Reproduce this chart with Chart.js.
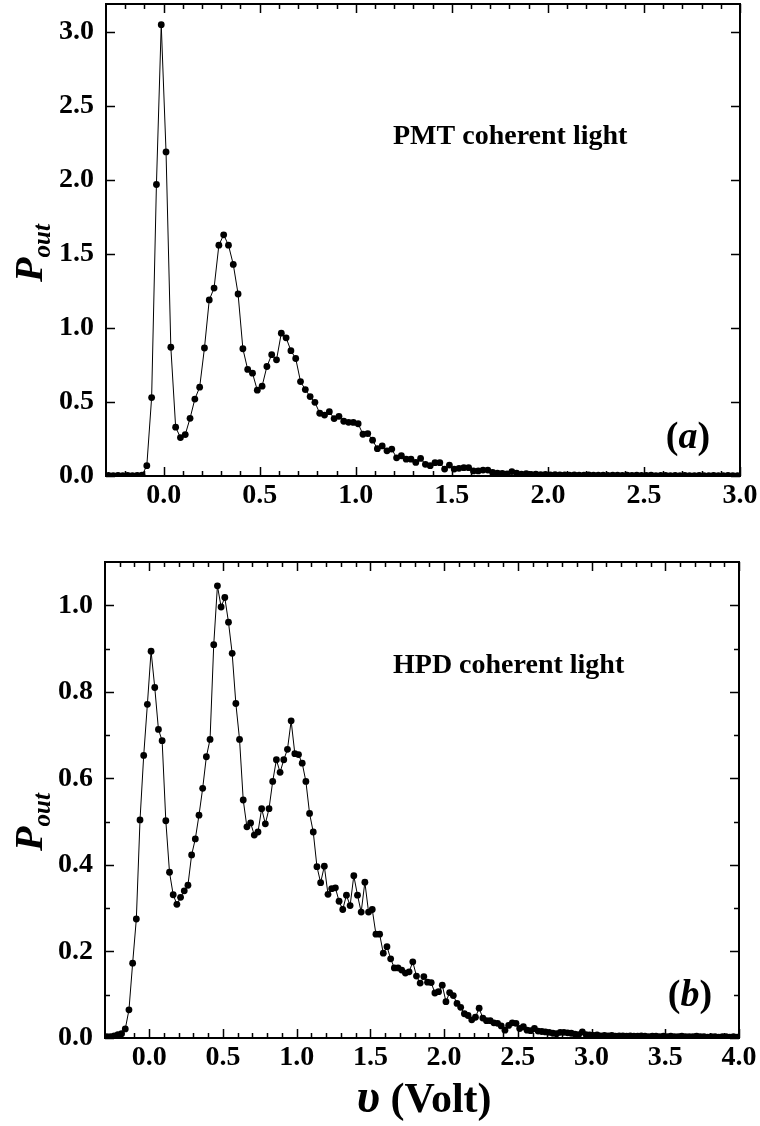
<!DOCTYPE html>
<html>
<head>
<meta charset="utf-8">
<script src="https://cdn.jsdelivr.net/npm/chart.js@4/dist/chart.umd.min.js"></script>
<style>
  body { margin: 0; background: #fff; }
  #wrap { position: relative; width: 760px; height: 1126px; }
  canvas { position: absolute; left: 0; }
</style>
</head>
<body>
<div id="wrap">
  <canvas id="chartTop" width="760" height="530" style="top:0;width:760px;height:530px"></canvas>
  <canvas id="chartBot" width="760" height="586" style="top:540px;width:760px;height:586px"></canvas>
</div>
<script>
// panel (a) : PMT, coherent light
let pmtX = [
  -0.2875, -0.2625, -0.2375, -0.2125, -0.1875, -0.1625, -0.1375, -0.1125, -0.0875, -0.0625, -0.0375, -0.0125,
  0.0125, 0.0375, 0.0625, 0.0875, 0.1125, 0.1375, 0.1625, 0.1875, 0.2125, 0.2375, 0.2625, 0.2875, 0.3125, 0.3375, 0.3625, 0.3875, 0.4125, 0.4375, 0.4625, 0.4875,
  0.5125, 0.5375, 0.5625, 0.5875, 0.6125, 0.6375, 0.6625, 0.6875, 0.7125, 0.7375, 0.7625, 0.7875, 0.8125, 0.8375, 0.8625, 0.8875, 0.9125, 0.9375, 0.9625, 0.9875,
  1.0125, 1.0375, 1.0625, 1.0875, 1.1125, 1.1375, 1.1625, 1.1875, 1.2125, 1.2375, 1.2625, 1.2875, 1.3125, 1.3375, 1.3625, 1.3875, 1.4125, 1.4375, 1.4625, 1.4875,
  1.5125, 1.5375, 1.5625, 1.5875, 1.6125, 1.6375, 1.6625, 1.6875, 1.7125, 1.7375, 1.7625, 1.7875, 1.8125, 1.8375, 1.8625, 1.8875, 1.9125, 1.9375, 1.9625, 1.9875,
  2.0125, 2.0375, 2.0625, 2.0875, 2.1125, 2.1375, 2.1625, 2.1875, 2.2125, 2.2375, 2.2625, 2.2875, 2.3125, 2.3375, 2.3625, 2.3875, 2.4125, 2.4375, 2.4625, 2.4875,
  2.5125, 2.5375, 2.5625, 2.5875, 2.6125, 2.6375, 2.6625, 2.6875, 2.7125, 2.7375, 2.7625, 2.7875, 2.8125, 2.8375, 2.8625, 2.8875, 2.9125, 2.9375, 2.9625, 2.9875
];
let pmtY = [
  0.004, 0.003, 0.004, 0.003, 0.004, 0.003, 0.004, 0.005, 0.07, 0.53, 1.97, 3.05,
  2.19, 0.87, 0.33, 0.26, 0.28, 0.39, 0.52, 0.60, 0.865, 1.19, 1.27, 1.56, 1.63, 1.56, 1.43, 1.23, 0.86, 0.72, 0.695, 0.58,
  0.607, 0.74, 0.82, 0.785, 0.965, 0.934, 0.847, 0.794, 0.638, 0.584, 0.537, 0.498, 0.424, 0.412, 0.435, 0.388, 0.403, 0.37, 0.363, 0.362,
  0.353, 0.282, 0.287, 0.242, 0.185, 0.203, 0.17, 0.182, 0.123, 0.137, 0.114, 0.114, 0.092, 0.119, 0.079, 0.07, 0.09, 0.09, 0.047, 0.074,
  0.047, 0.052, 0.056, 0.056, 0.034, 0.034, 0.04, 0.04, 0.025, 0.02, 0.018, 0.015, 0.03, 0.02, 0.013, 0.016, 0.01, 0.012, 0.009, 0.01,
  0.008, 0.009, 0.007, 0.008, 0.006, 0.007, 0.006, 0.005, 0.007, 0.005, 0.006, 0.005, 0.004, 0.006, 0.005, 0.004, 0.005, 0.004, 0.005, 0.004,
  0.004, 0.005, 0.003, 0.004, 0.004, 0.003, 0.004, 0.003, 0.004, 0.003, 0.003, 0.004, 0.003, 0.003, 0.004, 0.003, 0.003, 0.004, 0.003, 0.003
];

// panel (b) : HPD, coherent light
let hpdX = [
  -0.2875, -0.2625, -0.2375, -0.2125, -0.1875, -0.1625, -0.1375, -0.1125, -0.0875, -0.0625, -0.0375, -0.0125,
  0.0125, 0.0375, 0.0625, 0.0875, 0.1125, 0.1375, 0.1625, 0.1875, 0.2125, 0.2375, 0.2625, 0.2875, 0.3125, 0.3375, 0.3625, 0.3875, 0.4125, 0.4375, 0.4625, 0.4875,
  0.5125, 0.5375, 0.5625, 0.5875, 0.6125, 0.6375, 0.6625, 0.6875, 0.7125, 0.7375, 0.7625, 0.7875, 0.8125, 0.8375, 0.8625, 0.8875, 0.9125, 0.9375, 0.9625, 0.9875,
  1.0125, 1.0375, 1.0625, 1.0875, 1.1125, 1.1375, 1.1625, 1.1875, 1.2125, 1.2375, 1.2625, 1.2875, 1.3125, 1.3375, 1.3625, 1.3875, 1.4125, 1.4375, 1.4625, 1.4875,
  1.5125, 1.5375, 1.5625, 1.5875, 1.6125, 1.6375, 1.6625, 1.6875, 1.7125, 1.7375, 1.7625, 1.7875, 1.8125, 1.8375, 1.8625, 1.8875, 1.9125, 1.9375, 1.9625, 1.9875,
  2.0125, 2.0375, 2.0625, 2.0875, 2.1125, 2.1375, 2.1625, 2.1875, 2.2125, 2.2375, 2.2625, 2.2875, 2.3125, 2.3375, 2.3625, 2.3875, 2.4125, 2.4375, 2.4625, 2.4875,
  2.5125, 2.5375, 2.5625, 2.5875, 2.6125, 2.6375, 2.6625, 2.6875, 2.7125, 2.7375, 2.7625, 2.7875, 2.8125, 2.8375, 2.8625, 2.8875, 2.9125, 2.9375, 2.9625, 2.9875,
  3.0125, 3.0375, 3.0625, 3.0875, 3.1125, 3.1375, 3.1625, 3.1875, 3.2125, 3.2375, 3.2625, 3.2875, 3.3125, 3.3375, 3.3625, 3.3875, 3.4125, 3.4375, 3.4625, 3.4875,
  3.5125, 3.5375, 3.5625, 3.5875, 3.6125, 3.6375, 3.6625, 3.6875, 3.7125, 3.7375, 3.7625, 3.7875, 3.8125, 3.8375, 3.8625, 3.8875, 3.9125, 3.9375, 3.9625, 3.9875
];
let hpdY = [
  0.003, 0.003, 0.005, 0.008, 0.01, 0.021, 0.065, 0.173, 0.275, 0.504, 0.653, 0.771,
  0.894, 0.81, 0.713, 0.687, 0.502, 0.383, 0.331, 0.309, 0.325, 0.34, 0.353, 0.423, 0.46, 0.515, 0.577, 0.65, 0.69, 0.909, 1.045, 0.996,
  1.018, 0.961, 0.889, 0.773, 0.69, 0.55, 0.488, 0.497, 0.469, 0.476, 0.53, 0.495, 0.53, 0.593, 0.643, 0.614, 0.643, 0.667, 0.733, 0.657,
  0.655, 0.635, 0.593, 0.519, 0.476, 0.396, 0.359, 0.397, 0.332, 0.345, 0.347, 0.316, 0.297, 0.33, 0.306, 0.375, 0.33, 0.291, 0.36, 0.291,
  0.297, 0.24, 0.24, 0.196, 0.211, 0.183, 0.162, 0.162, 0.157, 0.15, 0.153, 0.176, 0.143, 0.127, 0.142, 0.129, 0.128, 0.104, 0.107, 0.122,
  0.084, 0.105, 0.098, 0.08, 0.071, 0.056, 0.052, 0.042, 0.048, 0.069, 0.046, 0.04, 0.04, 0.035, 0.034, 0.028, 0.018, 0.029, 0.035, 0.034,
  0.022, 0.026, 0.018, 0.017, 0.022, 0.016, 0.015, 0.014, 0.013, 0.011, 0.01, 0.013, 0.013, 0.012, 0.011, 0.009, 0.008, 0.014, 0.008, 0.007,
  0.006, 0.007, 0.005, 0.006, 0.005, 0.006, 0.004, 0.005, 0.005, 0.004, 0.005, 0.004, 0.004, 0.005, 0.004, 0.003, 0.004, 0.004, 0.003, 0.004,
  0.003, 0.004, 0.003, 0.003, 0.004, 0.003, 0.003, 0.003, 0.004, 0.003, 0.003, 0.002, 0.003, 0.003, 0.002, 0.003, 0.003, 0.002, 0.003, 0.002
];

// ticks
let topXTicks = [0, 0.5, 1.0, 1.5, 2.0, 2.5, 3.0];
let topXMinor = [-0.2, -0.1, 0.1, 0.2, 0.3, 0.4, 0.6, 0.7, 0.8, 0.9, 1.1, 1.2, 1.3, 1.4, 1.6, 1.7, 1.8, 1.9, 2.1, 2.2, 2.3, 2.4, 2.6, 2.7, 2.8, 2.9];
let topYTicks = [0, 0.5, 1.0, 1.5, 2.0, 2.5, 3.0];
let topYMinor = [];
let botXTicks = [0, 0.5, 1.0, 1.5, 2.0, 2.5, 3.0, 3.5, 4.0];
let botXMinor = [-0.2, -0.1, 0.1, 0.2, 0.3, 0.4, 0.6, 0.7, 0.8, 0.9, 1.1, 1.2, 1.3, 1.4, 1.6, 1.7, 1.8, 1.9, 2.1, 2.2, 2.3, 2.4,
  2.6, 2.7, 2.8, 2.9, 3.1, 3.2, 3.3, 3.4, 3.6, 3.7, 3.8, 3.9];
let botYTicks = [0, 0.2, 0.4, 0.6, 0.8, 1.0];
let botYMinor = [0.1, 0.3, 0.5, 0.7, 0.9];

const SERIF = '"Liberation Serif", "Times New Roman", serif';

// draws pieces of text one after the other, centred on x
let drawPieces = function (ctx, pieces, x, y) {
    let total = 0;
    for (let p of pieces) {
        ctx.font = p.font;
        total += ctx.measureText(p.text).width;
    }
    let cx = x - total / 2;
    ctx.textBaseline = 'alphabetic';
    ctx.textAlign = 'left';
    for (let p of pieces) {
        ctx.font = p.font;
        ctx.fillText(p.text, cx, y + (p.dy || 0));
        cx += ctx.measureText(p.text).width;
    }
}

// frame, inward ticks and texts
const framePlugin = {
    id: 'frame',
    afterDraw(chart, args, o) {
        const ctx = chart.ctx;
        const a = chart.chartArea;
        const xs = chart.scales.x, ys = chart.scales.y;
        ctx.save();
        ctx.strokeStyle = '#000';
        ctx.fillStyle = '#000';
        ctx.lineWidth = 1.5;
        let tick = function (vals, len) {
            for (let v of vals.x) {
                let px = Math.round(xs.getPixelForValue(v)) + 0.5;
                ctx.beginPath();
                ctx.moveTo(px, a.bottom); ctx.lineTo(px, a.bottom - len);
                ctx.moveTo(px, a.top); ctx.lineTo(px, a.top + len);
                ctx.stroke();
            }
            for (let v of vals.y) {
                let py = Math.round(ys.getPixelForValue(v)) + 0.5;
                ctx.beginPath();
                ctx.moveTo(a.left, py); ctx.lineTo(a.left + len, py);
                ctx.moveTo(a.right, py); ctx.lineTo(a.right - len, py);
                ctx.stroke();
            }
        }
        tick({x: o.xMajor, y: o.yMajor}, 9);
        tick({x: o.xMinor, y: o.yMinor}, 5);
        ctx.lineWidth = 2;
        ctx.strokeRect(a.left, a.top, a.right - a.left, a.bottom - a.top);

        // annotation text
        ctx.font = 'bold 28px ' + SERIF;
        ctx.textAlign = 'left';
        ctx.textBaseline = 'middle';
        ctx.fillText(o.label, o.labelX, o.labelY);

        drawPieces(ctx, [
            {text: '(', font: 'bold 38px ' + SERIF},
            {text: o.letter, font: 'italic bold 38px ' + SERIF},
            {text: ')', font: 'bold 38px ' + SERIF}
        ], o.letterX, o.letterY);

        // y title P_out
        ctx.save();
        ctx.translate(o.yTitleX, o.yTitleY);
        ctx.rotate(-Math.PI / 2);
        drawPieces(ctx, [
            {text: 'P', font: 'italic bold 40px ' + SERIF},
            {text: 'out', font: 'italic bold 25px ' + SERIF, dy: 8}
        ], 0, 0);
        ctx.restore();

        if (o.xTitle) {
            drawPieces(ctx, [
                {text: 'υ', font: 'italic bold 48px ' + SERIF},
                {text: ' (Volt)', font: 'bold 42px ' + SERIF}
            ], o.xTitleX, o.xTitleY);
        }
        ctx.restore();
    }
};

let makeChart = function (id, xs, ys, opt) {
    let pts = [];
    for (let i = 0; i < xs.length; i++) {
        pts.push({x: xs[i], y: ys[i]});
    }
    const tickFont = {family: SERIF, size: 28, weight: 'bold'};
    new Chart(document.getElementById(id), {
        type: 'line',
        data: {
            datasets: [{
                data: pts,
                borderColor: '#000',
                borderWidth: 1,
                backgroundColor: '#000',
                pointRadius: 3.4,
                pointBorderWidth: 0,
                pointBackgroundColor: '#000',
                tension: 0
            }]
        },
        plugins: [framePlugin],
        options: {
            responsive: false,
            animation: false,
            layout: {padding: opt.padding},
            plugins: {
                legend: {display: false},
                tooltip: {enabled: false},
                frame: opt.frame
            },
            scales: {
                x: {
                    type: 'linear',
                    min: opt.xMin, max: opt.xMax,
                    grid: {display: false, drawTicks: false},
                    border: {display: false},
                    afterBuildTicks: s => { s.ticks = opt.frame.xMajor.map(v => ({value: v})); },
                    afterFit: s => {
                        s.height = opt.xHeight;
                        s.paddingLeft = 0; s.paddingRight = 0;
                    },
                    ticks: {
                        font: tickFont, color: '#000', padding: 3, maxRotation: 0, autoSkip: false,
                        callback: v => v.toFixed(1)
                    }
                },
                y: {
                    min: 0, max: opt.yMax,
                    grid: {display: false, drawTicks: false},
                    border: {display: false},
                    afterBuildTicks: s => { s.ticks = opt.frame.yMajor.map(v => ({value: v})); },
                    afterFit: s => {
                        s.width = opt.yWidth;
                        s.paddingTop = 0; s.paddingBottom = 0;
                    },
                    ticks: {
                        font: tickFont, color: '#000', padding: 12, autoSkip: false,
                        callback: v => v.toFixed(1)
                    }
                }
            }
        }
    });
}

makeChart('chartTop', pmtX, pmtY, {
    padding: {left: 0, right: 20, top: 2, bottom: 0},
    xMin: -0.3, xMax: 3.0, yMax: 3.19,
    xHeight: 54, yWidth: 106,
    frame: {
        xMajor: topXTicks, xMinor: topXMinor, yMajor: topYTicks, yMinor: topYMinor,
        label: 'PMT coherent light', labelX: 393, labelY: 137,
        letter: 'a', letterX: 688, letterY: 448,
        yTitleX: 42, yTitleY: 253
    }
});

makeChart('chartBot', hpdX, hpdY, {
    padding: {left: 0, right: 21, top: 22, bottom: 0},
    xMin: -0.3, xMax: 4.0, yMax: 1.1,
    xHeight: 88, yWidth: 105,
    frame: {
        xMajor: botXTicks, xMinor: botXMinor, yMajor: botYTicks, yMinor: botYMinor,
        label: 'HPD coherent light', labelX: 393, labelY: 126,
        letter: 'b', letterX: 690, letterY: 466,
        yTitleX: 42, yTitleY: 282,
        xTitle: true, xTitleX: 424, xTitleY: 572
    }
});
</script>
</body>
</html>
